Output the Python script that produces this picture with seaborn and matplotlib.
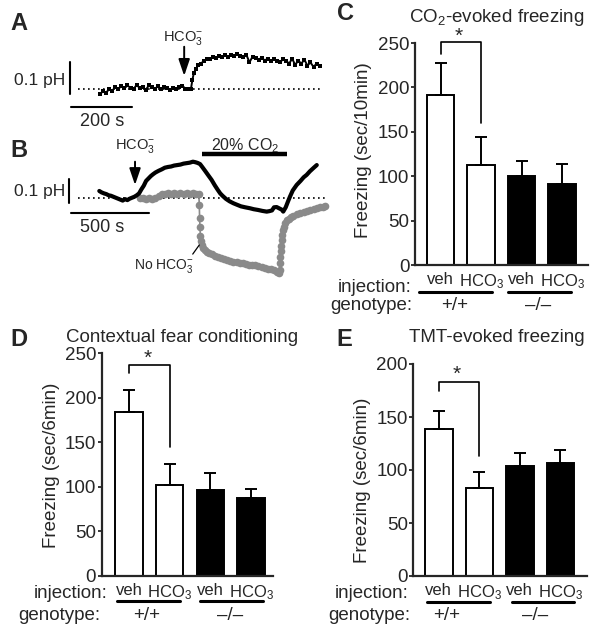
import matplotlib
matplotlib.use('Agg')
import matplotlib.pyplot as plt
import seaborn as sns
import pandas as pd

# Panel A: pH trace (time in s, pH change from baseline)
trace_a_t = [0, 10, 20, 30, 40, 50, 60, 70, 80, 90,
             100, 110, 120, 130, 140, 150, 160, 170, 180, 190,
             200, 210, 220, 230, 240, 250, 260, 270, 280, 290,
             298, 303, 308, 315, 322, 330,
             340, 350, 360, 370, 380, 390, 400, 410, 420, 430,
             440, 450, 460, 470, 480, 490, 500, 510, 520, 530,
             540, 550, 560, 570, 580, 590, 600, 610, 620, 630,
             640, 650, 660, 670, 680, 690, 700, 710, 720]
trace_a_ph = [-0.015, -0.006, -0.01, 0.0, -0.004, 0.006, 0.002, 0.009, 0.003, 0.012,
              0.004, 0.0, 0.014, 0.004, 0.008, -0.002, 0.012, 0.006, 0.002, 0.009,
              0.0, 0.006, 0.003, -0.002, 0.005, 0.0, 0.007, 0.011, 0.002, 0.0,
              0.0, 0.03, 0.052, 0.064, 0.076, 0.08,
              0.088, 0.094, 0.096, 0.1, 0.098, 0.104, 0.1, 0.106, 0.102, 0.108,
              0.104, 0.11, 0.104, 0.1, 0.108, 0.084, 0.102, 0.098, 0.092, 0.099,
              0.09, 0.096, 0.088, 0.094, 0.09, 0.084, 0.094, 0.09, 0.08, 0.096,
              0.076, 0.09, 0.08, 0.093, 0.074, 0.084, 0.07, 0.08, 0.074]

# Panel B: with HCO3- (black)
trace_b_t = [0, 15, 30, 45, 60, 75, 90, 105, 120, 135,
             150, 165, 180, 195, 210, 225, 240, 255, 270, 285,
             300, 315, 330, 345, 360, 380, 400, 420, 440, 460,
             480, 500, 520, 540, 560, 580, 600, 615, 630, 646,
             660, 678, 700, 720, 740, 760, 775, 790, 812, 835,
             859, 885, 908, 935, 966, 990, 1017, 1045, 1073, 1090,
             1107, 1120, 1137, 1155, 1170, 1179, 1195, 1210, 1222, 1240,
             1265, 1290, 1310, 1329, 1350, 1375, 1394]
trace_b_ph = [0.028, 0.022, 0.018, 0.015, 0.01, 0.008, 0.004, 0.0, -0.004, -0.008,
              -0.012, -0.006, -0.01, -0.004, 0.0, 0.004, 0.01, 0.018, 0.035, 0.05,
              0.07, 0.08, 0.09, 0.098, 0.105, 0.112, 0.118, 0.125, 0.128, 0.13,
              0.134, 0.136, 0.138, 0.142, 0.144, 0.146, 0.15, 0.148, 0.145, 0.14,
              0.128, 0.112, 0.092, 0.074, 0.052, 0.032, 0.018, 0.008, -0.005, -0.015,
              -0.023, -0.03, -0.036, -0.04, -0.044, -0.048, -0.051, -0.055, -0.058, -0.056,
              -0.053, -0.04, -0.039, -0.045, -0.05, -0.058, -0.04, -0.015, 0.004, 0.03,
              0.053, 0.07, 0.085, 0.095, 0.11, 0.125, 0.136]

# Panel B: no HCO3- (gray)
trace_nohco3_t = [260, 280, 300, 320, 340, 360, 380, 400, 420, 440,
                  460, 480, 500, 520, 540, 560, 580, 600, 620, 638,
                  641, 643, 645, 648, 652, 656, 665, 676, 688, 705,
                  720, 740, 760, 780, 800, 820, 840, 860, 880, 900,
                  920, 940, 960, 980, 1000, 1020, 1040, 1060, 1080, 1100,
                  1120, 1137, 1150, 1156, 1158, 1160, 1163, 1166, 1169, 1174,
                  1179, 1185, 1192, 1201, 1215, 1230, 1244, 1265, 1287, 1310,
                  1330, 1351, 1375, 1395, 1415, 1432, 1447]
trace_nohco3_ph = [-0.003, 0.0, -0.004, -0.002, -0.004, 0.0, 0.006, 0.016, 0.014, 0.018,
                   0.014, 0.018, 0.016, 0.018, 0.014, 0.018, 0.016, 0.018, 0.014, 0.016,
                   -0.03, -0.085, -0.12, -0.16, -0.18, -0.197, -0.21, -0.218, -0.225, -0.23,
                   -0.235, -0.242, -0.248, -0.25, -0.255, -0.258, -0.262, -0.267, -0.268, -0.27,
                   -0.272, -0.276, -0.28, -0.281, -0.282, -0.285, -0.288, -0.292, -0.295, -0.298,
                   -0.302, -0.308, -0.315, -0.3, -0.27, -0.246, -0.22, -0.2, -0.176, -0.155,
                   -0.135, -0.12, -0.106, -0.093, -0.087, -0.081, -0.076, -0.069, -0.0625, -0.058,
                   -0.054, -0.051, -0.046, -0.043, -0.04, -0.038, -0.036]

# Panels C-E: freezing, mean and SEM
conditions = ['veh +/+', 'HCO3 +/+', 'veh -/-', 'HCO3 -/-']
bar_colors = ['white', 'white', 'black', 'black']
injection_labels = ['veh', 'HCO$_3$', 'veh', 'HCO$_3$']
co2_mean = [192, 113, 100, 91]
co2_sem = [35, 31, 17, 23]
fear_mean = [184, 102, 96, 87]
fear_sem = [25, 24, 20, 11]
tmt_mean = [139, 83, 104, 107]
tmt_sem = [17, 15, 12, 12]

sns.set_theme(style='ticks')
plt.rcParams['font.family'] = ['Liberation Sans', 'DejaVu Sans']
plt.rcParams['mathtext.fontset'] = 'custom'
plt.rcParams['mathtext.rm'] = 'Liberation Sans'
plt.rcParams['mathtext.it'] = 'Liberation Sans:italic'
plt.rcParams['mathtext.bf'] = 'Liberation Sans:bold'
plt.rcParams['mathtext.default'] = 'regular'

W, H = 604, 636
fig = plt.figure(figsize=(W / 100, H / 100), dpi=100)
FS = 13.5

ARROW = dict(arrowstyle='-|>,head_length=0.5,head_width=0.17', mutation_scale=20,
             color='black', lw=1.4, shrinkA=0, shrinkB=0)


def px_axes(x0, y0, x1, y1):
    return fig.add_axes([x0 / W, 1 - y1 / H, (x1 - x0) / W, (y1 - y0) / H])


def px_text(x, y, s, **kw):
    kw.setdefault('ha', 'center')
    kw.setdefault('va', 'center')
    kw.setdefault('fontsize', FS)
    fig.text(x / W, 1 - y / H, s, **kw)


def panel_letter(x, y, s):
    px_text(x, y, s, fontsize=17, fontweight='bold')


# ---- Panel A ----
ax_a = px_axes(60, 40, 330, 130)
# pixel mapping: x = 100 + 0.305 t, y = 89.3 - 320 pH
ax_a.set_xlim((60 - 100) / 0.305, (330 - 100) / 0.305)
ax_a.set_ylim((89.3 - 130) / 320, (89.3 - 40) / 320)
ax_a.axis('off')
sns.lineplot(x=trace_a_t, y=trace_a_ph, ax=ax_a, color='black', lw=1.4,
             marker='s', markersize=2.5, markeredgewidth=0)
ax_a.plot([-72, 721], [0, 0], ls=(0, (1, 2)), color='black', lw=1.2)
ax_a.plot([-100, -100], [-0.015, 0.085], color='black', lw=1.5)
ax_a.plot([-95, 105], [-0.054, -0.054], color='black', lw=1.5)
ax_a.annotate('', xy=(276, 0.042), xytext=(276, 0.133), arrowprops=ARROW)
px_text(65, 80, '0.1 pH', ha='right', fontsize=12.5)
px_text(102, 122, '200 s', fontsize=13)
px_text(183, 38, 'HCO$_3^{-}$', fontsize=10.5)
panel_letter(19, 24, 'A')

# ---- Panel B ----
ax_b = px_axes(60, 135, 335, 285)
# pixel mapping: x = 99.3 + 0.156 t, y = 197.7 - 240 pH
ax_b.set_xlim((60 - 99.3) / 0.156, (335 - 99.3) / 0.156)
ax_b.set_ylim((197.7 - 285) / 240, (197.7 - 135) / 240)
ax_b.axis('off')
ax_b.plot([-137, 1458], [0, 0], ls=(0, (1, 2)), color='black', lw=1.2, zorder=1)
sns.lineplot(x=trace_nohco3_t, y=trace_nohco3_ph, ax=ax_b, color='#8a8a8a', lw=1.2,
             marker='o', markersize=5.5, markeredgewidth=0, zorder=2)
sns.lineplot(x=trace_b_t, y=trace_b_ph, ax=ax_b, color='black', lw=3, zorder=3)
ax_b.plot([-192, -192], [-0.022, 0.078], color='black', lw=1.5)
ax_b.plot([-181, 319], [-0.065, -0.065], color='black', lw=1.5)
ax_b.plot([656, 1201], [0.181, 0.181], color='black', lw=3.2, solid_capstyle='butt')
ax_b.plot([599, 641], [-0.235, -0.197], color='black', lw=0.9)
ax_b.annotate('', xy=(229, 0.053), xytext=(229, 0.15), arrowprops=ARROW)
px_text(65, 192, '0.1 pH', ha='right', fontsize=12.5)
px_text(102, 228, '500 s', fontsize=13)
px_text(135, 146, 'HCO$_3^{-}$', fontsize=10.5)
px_text(245, 146, '20% CO$_2$', fontsize=11.5)
px_text(164, 266, 'No HCO$_3^{-}$', fontsize=10)
panel_letter(19, 150, 'B')


# ---- bar panels ----
def bar_panel(box, means, sems, ymax, yticks, ylabel, xlim, ylab_px, bracket, star,
              inj_right, gen_right, gen_x, lines, row_y):
    ax = px_axes(*box)
    df = pd.DataFrame({'cond': conditions, 'freezing': means})
    sns.barplot(data=df, x='cond', y='freezing', hue='cond', palette=bar_colors,
                edgecolor='black', linewidth=1.4, width=0.68, errorbar=None,
                legend=False, ax=ax)
    ax.errorbar(range(len(means)), means, yerr=[[0] * len(sems), sems], fmt='none',
                ecolor='black', elinewidth=1.4, capsize=4, capthick=1.4)
    ax.set_ylim(0, ymax)
    ax.set_xlim(*xlim)
    ax.set_yticks(yticks)
    ax.set_xticks(range(4))
    ax.set_xticklabels(injection_labels, fontsize=12)
    ax.tick_params(axis='x', length=0, pad=5)
    ax.tick_params(axis='y', length=3, width=1.3, pad=1, labelsize=FS)
    ax.set_xlabel('')
    ax.set_ylabel(ylabel, fontsize=FS, va='center')
    x0, y0, x1, y1 = box
    ax.yaxis.set_label_coords((ylab_px[0] - x0) / (x1 - x0), (y1 - ylab_px[1]) / (y1 - y0))
    sns.despine(ax=ax)
    for sp in ['left', 'bottom']:
        ax.spines[sp].set_linewidth(1.6)
    # significance bracket
    yl, yt, yr = bracket
    ax.plot([0, 0, 1, 1], [yl, yt, yt, yr], color='black', lw=1.2, clip_on=False)
    ax.text(star[0], star[1], '*', ha='center', va='center', fontsize=15, clip_on=False)
    # injection / genotype rows
    px_text(inj_right, row_y[0], 'injection:', ha='right')
    px_text(gen_right, row_y[1], 'genotype:', ha='right')
    px_text(gen_x[0], row_y[1], '+/+')
    px_text(gen_x[1], row_y[1], '\u2013/\u2013')
    for xa, xb in lines:
        fig.add_artist(plt.Line2D([xa / W, xb / W], [1 - row_y[2] / H] * 2,
                                  color='black', lw=2.2))
    return ax


ax_c = bar_panel((415, 43, 588, 265), co2_mean, co2_sem, 250, range(0, 251, 50),
                 'Freezing (sec/10min)', (-0.63, 3.64), (363, 150),
                 (238, 251.5, 160), (0.45, 257),
                 412, 412, (455, 538), [(419, 492), (508, 571)], (287, 306, 292))
px_text(497, 17, 'CO$_2$-evoked freezing')
panel_letter(346, 14, 'C')

ax_d = bar_panel((101.7, 353, 273, 576), fear_mean, fear_sem, 250, range(0, 251, 50),
                 'Freezing (sec/6min)', (-0.67, 3.54), (52, 465),
                 (228, 237, 145), (0.45, 244),
                 108, 100, (147, 230), [(117, 180), (200, 263)], (594, 615, 601))
px_text(182, 338, 'Contextual fear conditioning')
panel_letter(19, 339, 'D')

ax_e = bar_panel((413.3, 364, 586.7, 576), tmt_mean, tmt_sem, 200, range(0, 201, 50),
                 'Freezing (sec/6min)', (-0.63, 3.65), (362, 480),
                 (175, 182.7, 113), (0.45, 190),
                 409, 410, (447, 535), [(427, 490), (512, 574)], (594, 615, 602))
px_text(497, 338, 'TMT-evoked freezing')
panel_letter(344, 339, 'E')

fig.savefig('out.png', dpi=100)
